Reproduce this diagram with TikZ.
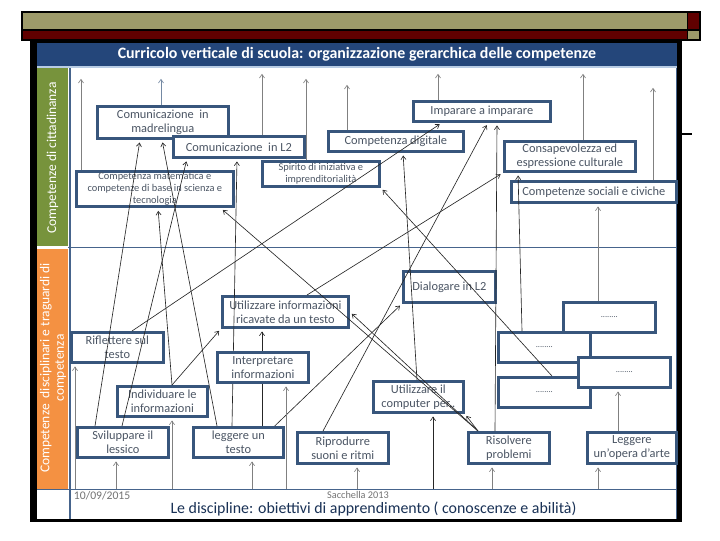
\documentclass[tikz,border=0pt]{standalone}
\usepackage{fontspec}
\setmainfont{Carlito}
\usetikzlibrary{arrows.meta,calc,positioning}
\definecolor{olivebar}{RGB}{157,154,106}
\definecolor{darkred}{RGB}{96,0,0}
\definecolor{titleblue}{RGB}{36,70,122}
\definecolor{paleblue}{RGB}{184,204,228}
\definecolor{citgreen}{RGB}{119,147,60}
\definecolor{discorange}{RGB}{244,145,66}
\definecolor{boxblue}{RGB}{56,86,124}
\definecolor{boxtext}{RGB}{75,85,100}
\definecolor{lineblue}{RGB}{70,100,140}

\begin{document}
\begin{tikzpicture}[x=0.025cm,y=-0.025cm,
  box/.style={draw=boxblue,line width=1.9pt,fill=white,text=boxtext,align=center,
    inner sep=1pt,anchor=north west,font=\fontsize{8.8}{10}\selectfont},
  smallbox/.style={box,font=\fontsize{7.4}{8.4}\selectfont},
  sz/.style 2 args={minimum width=#1*0.025cm,minimum height=#2*0.025cm},
  arr/.style={-{Straight Barb[length=2.6pt,width=3.6pt]},line width=0.45pt,draw=black!85,shorten >=2pt},
  arrg/.style={arr,draw=black!50},
  lefttext/.style={rotate=90,text=white,align=center,font=\fontsize{9.6}{10.4}\selectfont}]
\useasboundingbox[fill=white] (0,0) rectangle (720,540);

% banner
\fill[olivebar] (22,12) rectangle (687,30);
\fill[darkred] (22,30) rectangle (687,40);
\fill[darkred] (688,12) rectangle (700,30);
\fill[olivebar] (688,30) rectangle (700,40);
\draw[line width=0.8pt] (22,12) rectangle (700,40);
\draw[line width=0.8pt] (22,30) -- (700,30);
\draw[line width=0.8pt] (687.5,12) -- (687.5,40);
\draw[line width=0.8pt] (680,134) -- (692,134);

% slide frame
\fill[black] (30,40) rectangle (682,522);
\fill[titleblue] (37,43) rectangle (677,66);
\node[text=white,font=\bfseries\fontsize{11.3}{13}\selectfont] (title) at (357,54.5)
  {Curricolo verticale di scuola: organizzazione gerarchica delle competenze};
\fill[white] (37,66) rectangle (677,519);
\draw[paleblue,line width=1pt] (37,67) -- (677,67);
\fill[citgreen] (37,68) rectangle (68,246);
\fill[discorange] (37,249) rectangle (68,489);
\draw[lineblue,line width=0.8pt] (70,68) -- (70,519);
\draw[lineblue,line width=0.8pt] (68,247.5) -- (677,247.5);
\draw[lineblue,line width=0.8pt] (37,489.5) -- (677,489.5);
\draw[lineblue,line width=0.6pt] (676,68) -- (676,519);
\node[lefttext] (cit) at (52.5,158) {Competenze di cittadinanza};
\node[lefttext] (disc) at (53,368) {Competenze\ \ disciplinari e traguardi di\\competenza};
\node[anchor=west,text=black!55,font=\fontsize{8.3}{9}\selectfont] (date) at (69,496) {10/09/2015};
\node[text=black!55,font=\fontsize{7.3}{8}\selectfont] (auth) at (358,494.5) {Sacchella 2013};
\node[text=titleblue!70!black,font=\fontsize{11.3}{13}\selectfont] (obj) at (373.5,508.5)
  {Le discipline: obiettivi di apprendimento ( conoscenze e abilità)};

% competenze di cittadinanza
\node[box,sz={131}{32}] (madre) at (96,105) {Comunicazione\ \ in\\madrelingua};
\node[box,sz={131}{21}] (ltwo) at (172,135) {Comunicazione\ \ in L2};
\node[smallbox,sz={157}{35}] (mat) at (75,170) {Competenza matematica e\\competenze di base in scienza e\\tecnologia};
\node[smallbox,sz={117}{25}] (spirito) at (261,160) {Spirito di iniziativa e\\imprenditorialità};
\node[box,sz={135}{20}] (digit) at (327,130) {Competenza digitale};
\node[box,sz={137}{20}] (impara) at (412,100) {Imparare a imparare};
\node[box,sz={131}{30}] (consap) at (503,140) {Consapevolezza ed\\espressione culturale};
\node[box,sz={165}{21}] (sociali) at (510,180) {Competenze sociali e civiche};

% competenze disciplinari
\node[box,sz={92}{31}] (dialog) at (402,270) {Dialogare in L2};
\node[box,sz={126}{31}] (info) at (221,295) {Utilizzare informazioni\\ricavate da un testo};
\node[box,sz={92}{30}] (rifl) at (70,331) {Riflettere sul\\testo};
\node[box,sz={90}{30}] (indiv) at (116,385) {Individuare le\\informazioni};
\node[box,sz={91}{30}] (svil) at (76,426) {Sviluppare il\\lessico};
\node[box,sz={90}{30}] (legg) at (192,426) {leggere un\\testo};
\node[box,sz={91}{31}] (ripr) at (296,431) {Riprodurre\\suoni e ritmi};
\node[box,sz={90}{31}] (comp) at (372,380) {Utilizzare il\\computer per..};
\node[box,sz={81}{31}] (risol) at (467,431) {Risolvere\\problemi};
\node[box,sz={89}{31}] (opera) at (586,431) {Leggere\\un’opera d’arte};
\node[box,sz={92}{30},font=\fontsize{6}{7}\selectfont] (dota) at (562,301) {........};
\node[box,sz={92}{30},font=\fontsize{6}{7}\selectfont] (dotb) at (497,331) {........};
\node[box,sz={92}{30},font=\fontsize{6}{7}\selectfont] (dotd) at (497,376) {........};
\node[box,sz={92}{30},font=\fontsize{6}{7}\selectfont] (dotc) at (577,356) {........};

% upward ends
\coordinate (t1) at (81,76);
\coordinate (t2) at (161,76);
\coordinate (t3) at (262,71);
\coordinate (t4) at (306,76);
\coordinate (t5) at (347,82);
\coordinate (t6) at (438,71);
\coordinate (t7) at (583,71);
\coordinate (t8) at (653,85);
\draw[arrg] (mat.north -| t1) -- (t1);
\draw[arrg,draw=boxblue!70] (madre.north -| t2) -- (t2);
\draw[arrg] (ltwo.north -| t3) -- (t3);
\draw[arrg] (spirito.north -| t4) -- (t4);
\draw[arrg] (digit.north -| t5) -- (t5);
\draw[arrg] (impara.north -| t6) -- (t6);
\draw[arrg] (consap.north -| t7) -- (t7);
\draw[arrg] (sociali.north -| t8) -- (t8);

% bottom band
\coordinate (b1) at (75,489);
\coordinate (b2) at (116,489);
\coordinate (b3) at (172,489);
\coordinate (b4) at (252,489);
\coordinate (b5) at (286,489);
\coordinate (b6) at (357,489);
\coordinate (b7) at (433,489);
\coordinate (b8) at (492,489);
\coordinate (b9) at (598,489);
\draw[arrg] (b1) -- (b1 |- rifl.south);
\draw[arrg] (b2) -- (b2 |- svil.south);
\draw[arrg] (b3) -- (b3 |- indiv.south);
\draw[arrg] (b4) -- (b4 |- legg.south);
\draw[arrg] (b6) -- (b6 |- ripr.south);
\draw[arr] (b7) -- (b7 |- comp.south);
\draw[arrg] (b8) -- (b8 |- risol.south);
\draw[arrg] (b9) -- (b9 |- opera.south);

% links between the levels
\draw[arr] ($(svil.north west)+(19,0)$) -- ($(madre.south west)+(44,0)$);
\draw[arr] ($(svil.north west)+(46,0)$) -- ($(ltwo.south west)+(15,0)$);
\draw[arr] ($(legg.north west)+(25,0)$) -- ($(madre.south west)+(66,0)$);
\draw[arr] ($(legg.north west)+(40,0)$) -- ($(ltwo.south west)+(65,0)$);
\draw[arr] ($(legg.north west)+(70,0)$) -- ($(info.south west)+(41,0)$);
\draw[arr] ($(legg.north east)+(-10,0)$) -- (dialog.south west);
\draw[arr] ($(indiv.north west)+(56,0)$) -- ($(mat.south west)+(83,0)$);
\draw[arr] ($(indiv.north west)+(56,0)$) -- (info.south west);
\draw[arr] ($(rifl.north west)+(62,0)$) -- ($(impara.south west)+(30,0)$);
\draw[arr] ($(info.north west)+(86,0)$) -- (consap.south west);
\draw[arr] ($(ripr.north west)+(27,0)$) -- ($(impara.south west)+(76,0)$);
\draw[arr] ($(comp.north west)+(45,0)$) -- ($(digit.south west)+(76,0)$);
\draw[arr] ($(risol.north west)+(28,0)$) -- ($(impara.south west)+(85,0)$);
\draw[arr] ($(risol.north west)+(11,0)$) -- (comp.south east);
\draw[arr] ($(risol.north west)+(11,0)$) -- (info.east);
\draw[arr] ($(risol.north west)+(11,0)$) -- ($(mat.south east)+(-14,0)$);
\draw[arr] ($(dotd.north west)+(55,0)$) -- (spirito.south east);
\draw[arr] ($(dotb.north west)+(25,0)$) -- ($(consap.south west)+(15,0)$);
\draw[arrg] ($(dota.north west)+(36,0)$) -- ($(sociali.south west)+(88,0)$);
\draw[arrg] ($(opera.north west)+(32,0)$) -- ($(dotc.south west)+(41,0)$);

\node[box,sz={91}{30}] (interp) at (216,351) {Interpretare\\informazioni};
\draw[arrg] (b5) -- (b5 |- interp.south);
\end{tikzpicture}
\end{document}
